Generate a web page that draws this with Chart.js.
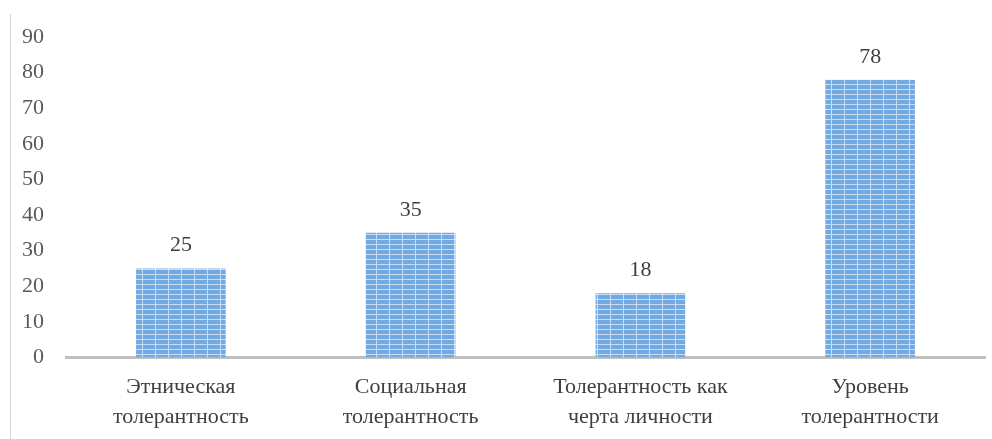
<!DOCTYPE html>
<html>
<head>
<meta charset="utf-8">
<script src="https://cdn.jsdelivr.net/npm/chart.js@4/dist/chart.umd.min.js"></script>
<style>
  html, body { margin: 0; padding: 0; background: #fff; }
  #wrap { position: absolute; left: 0; top: 0; width: 992px; height: 439px; }
  #frame { position: absolute; left: 10px; top: 14px; width: 1px; height: 425px; background: #d9d9d9; }
</style>
</head>
<body>
<div id="wrap">
  <div id="frame"></div>
  <canvas id="canvas" width="992" height="439"></canvas>
</div>
<script>
  var categories = [
    ["Этническая", "толерантность"],
    ["Социальная", "толерантность"],
    ["Толерантность как", "черта личности"],
    ["Уровень", "толерантности"]
  ];
  var values = [25, 35, 18, 78];
  var yTicks = [0, 10, 20, 30, 40, 50, 60, 70, 80, 90];

  // brick-like blue fill of the bars
  var makePattern = function () {
    var c = document.createElement("canvas");
    c.width = 13;
    c.height = 5;
    var p = c.getContext("2d");
    p.fillStyle = "#73a9e3";
    p.fillRect(0, 0, 13, 5);
    p.fillStyle = "#c9ddf4";
    p.fillRect(0, 4, 13, 1);
    p.fillRect(12, 0, 1, 5);
    return p.createPattern(c, "repeat");
  };

  var valueLabels = {
    id: "valueLabels",
    afterDatasetsDraw: function (chart) {
      var ctx = chart.ctx;
      var meta = chart.getDatasetMeta(0);
      ctx.save();
      ctx.font = "22px 'Liberation Serif'";
      ctx.fillStyle = "#404040";
      ctx.textAlign = "center";
      ctx.textBaseline = "bottom";
      meta.data.forEach(function (bar, i) {
        ctx.fillText(values[i], bar.x, bar.y - 12);
      });
      ctx.restore();
    }
  };

  window.onload = function () {
    var ctx = document.getElementById("canvas").getContext("2d");
    new Chart(ctx, {
      type: "bar",
      data: {
        labels: categories,
        datasets: [{
          data: values,
          backgroundColor: makePattern(),
          borderWidth: 0,
          barPercentage: 0.39,
          categoryPercentage: 1
        }]
      },
      options: {
        responsive: false,
        animation: false,
        layout: { padding: { top: 37, right: 7, left: 8, bottom: 0 } },
        plugins: {
          legend: { display: false },
          tooltip: { enabled: false }
        },
        scales: {
          x: {
            grid: { display: false },
            border: { color: "#bfbfbf", width: 3 },
            ticks: {
              color: "#404040",
              font: { family: "'Liberation Serif'", size: 22, lineHeight: 1.4 },
              padding: 6,
              maxRotation: 0
            }
          },
          y: {
            min: 0,
            max: 90,
            afterBuildTicks: function (axis) {
              axis.ticks = yTicks.map(function (v) { return { value: v }; });
            },
            grid: { display: false },
            border: { display: false },
            ticks: {
              color: "#595959",
              font: { family: "'Liberation Serif'", size: 22 },
              padding: 14
            }
          }
        }
      },
      plugins: [valueLabels]
    });
  };
</script>
</body>
</html>
